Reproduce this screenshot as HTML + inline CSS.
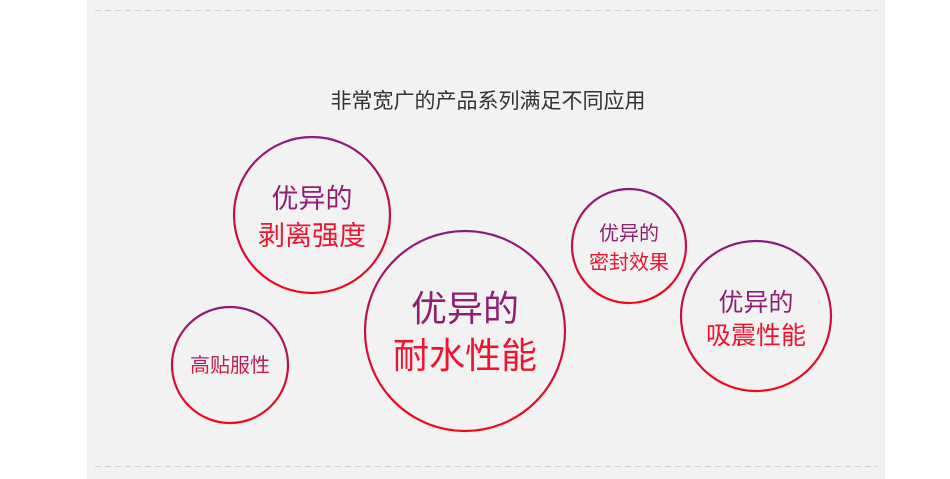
<!DOCTYPE html>
<html><head><meta charset="utf-8"><style>
html,body{margin:0;padding:0;background:#fff;}
svg{display:block;}
text{font-family:"Liberation Sans","Noto Sans CJK SC",sans-serif;}
</style></head><body>
<svg width="950" height="479" viewBox="0 0 950 479" xmlns="http://www.w3.org/2000/svg">
<defs>
<linearGradient id="g" x1="0" y1="0" x2="0" y2="1">
<stop offset="0" stop-color="#8a1a7c"/><stop offset="0.55" stop-color="#cc1040"/><stop offset="1" stop-color="#f4061c"/>
</linearGradient>
<linearGradient id="t" x1="0" y1="0" x2="0" y2="1">
<stop offset="0" stop-color="#a0206a"/><stop offset="1" stop-color="#ec183a"/>
</linearGradient>
</defs>
<rect x="87" y="0" width="798" height="479" fill="#f2f2f2"/>
<line x1="95" y1="10.5" x2="878" y2="10.5" stroke="#cfcfcf" stroke-width="1" stroke-dasharray="6,4"/>
<line x1="95" y1="466.5" x2="878" y2="466.5" stroke="#cfcfcf" stroke-width="1" stroke-dasharray="6,4"/>
<text x="488" y="108" font-size="21" fill="#333" text-anchor="middle">非常宽广的产品系列满足不同应用</text>

<g fill="none" stroke="url(#g)" stroke-width="2.2">
<circle cx="312" cy="215" r="78"/>
<circle cx="465" cy="331" r="100"/>
<circle cx="230" cy="365" r="58"/>
<circle cx="629" cy="246" r="57"/>
<circle cx="756" cy="316" r="75"/>
</g>
<g text-anchor="middle">
<text x="312" y="208" font-size="27" fill="#8e1f73">优异的</text>
<text x="312" y="245" font-size="27" fill="#ee1430">剥离强度</text>
<text x="465" y="321" font-size="36" fill="#8e1f73">优异的</text>
<text x="465" y="368" font-size="36" fill="#ee1430">耐水性能</text>
<text x="230" y="372" font-size="20" fill="url(#t)">高贴服性</text>
<text x="629" y="240" font-size="20" fill="#8e1f73">优异的</text>
<text x="629" y="269" font-size="20" fill="#ee1430">密封效果</text>
<text x="756" y="311" font-size="25" fill="#8e1f73">优异的</text>
<text x="756" y="344" font-size="25" fill="#ee1430">吸震性能</text>
</g>
</svg>
</body></html>
